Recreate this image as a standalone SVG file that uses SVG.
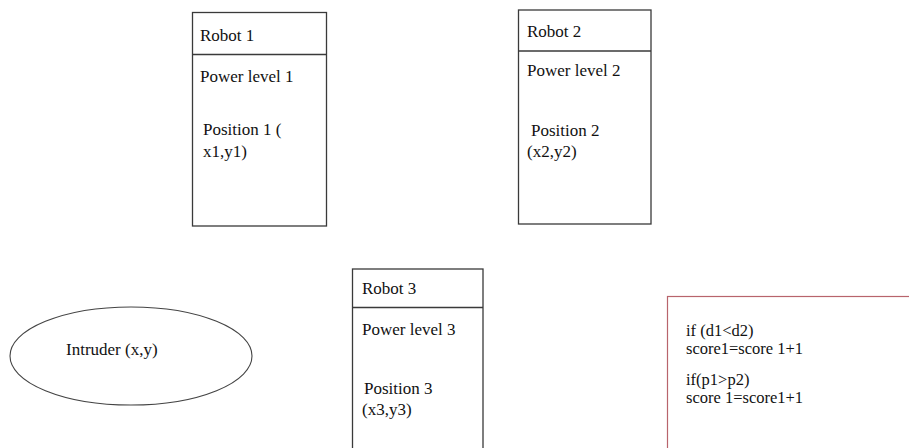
<svg xmlns="http://www.w3.org/2000/svg" width="909" height="448" viewBox="0 0 909 448">
<style>
.box{fill:#fff;stroke:#3a3a3a;stroke-width:1.3}
.t{font-family:"Liberation Serif","Times New Roman",serif;font-size:17px;fill:#111}
.r{font-family:"Liberation Serif","Times New Roman",serif;font-size:16.5px;fill:#111}
</style>
<rect width="909" height="448" fill="#fff"/>
<g id="robot1">
<rect class="box" x="192.5" y="12.5" width="134" height="213.5"/>
<line class="box" x1="192.5" y1="54.5" x2="326.5" y2="54.5"/>
<text class="t" x="200" y="41">Robot 1</text>
<text class="t" x="200" y="82">Power level 1</text>
<text class="t" x="203" y="135">Position 1 (</text>
<text class="t" x="203" y="157">x1,y1)</text>
</g>
<g id="robot2">
<rect class="box" x="518.5" y="10" width="132.5" height="214"/>
<line class="box" x1="518.5" y1="51" x2="651" y2="51"/>
<text class="t" x="527" y="37">Robot 2</text>
<text class="t" x="527" y="76">Power level 2</text>
<text class="t" x="531" y="136">Position 2</text>
<text class="t" x="527" y="157">(x2,y2)</text>
</g>
<g id="robot3">
<rect class="box" x="352.5" y="269" width="130.5" height="185"/>
<line class="box" x1="352.5" y1="307.5" x2="483" y2="307.5"/>
<text class="t" x="362" y="294">Robot 3</text>
<text class="t" x="362" y="335">Power level 3</text>
<text class="t" x="364" y="394">Position 3</text>
<text class="t" x="362" y="415">(x3,y3)</text>
</g>
<g id="intruder">
<ellipse cx="131" cy="356" rx="121" ry="49" fill="#fff" stroke="#444" stroke-width="1.1"/>
<text class="t" x="66" y="355">Intruder (x,y)</text>
</g>
<g id="rule">
<rect x="667.5" y="296.5" width="260" height="170" fill="#fff" stroke="#b8646c" stroke-width="1.2"/>
<text class="r" x="686" y="336">if (d1&lt;d2)</text>
<text class="r" x="686" y="354">score1=score 1+1</text>
<text class="r" x="686" y="385">if(p1&gt;p2)</text>
<text class="r" x="686" y="403">score 1=score1+1</text>
</g>
<g id="connectors"/>
</svg>
